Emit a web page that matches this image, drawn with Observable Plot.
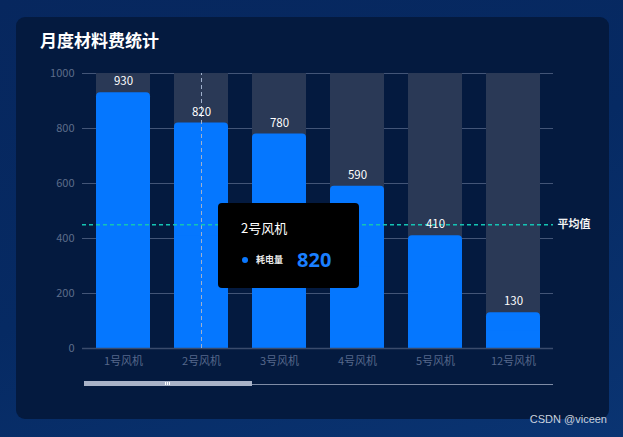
<!DOCTYPE html>
<html>
<head>
<meta charset="utf-8">
<script src="https://cdn.jsdelivr.net/npm/d3@7"></script>
<script src="https://cdn.jsdelivr.net/npm/@observablehq/plot@0.6"></script>
<style>
  html, body { margin: 0; padding: 0; }
  body {
    width: 623px; height: 437px; overflow: hidden; position: relative;
    background: linear-gradient(160deg, #07275e 0%, #062a63 50%, #0a3472 100%);
    font-family: "Noto Sans CJK SC", "Noto Sans", sans-serif;
  }
  #panel {
    position: absolute; left: 16px; top: 17px; width: 593px; height: 402px;
    background: #041a3f; border-radius: 9px;
  }
  #title {
    position: absolute; left: 40px; top: 27px; color: #ffffff;
    font-size: 17px; font-weight: bold; letter-spacing: 0px;
  }
  #chart { position: absolute; left: 0; top: 0; }
  #tooltip {
    position: absolute; width: 141px; height: 85px; background: #000;
    border-radius: 4px; box-sizing: border-box; padding: 16px 0 0 23px; color: #fff;
  }
  #tooltip .name { font-size: 13px; line-height: 18px; }
  #tooltip .row { margin-top: 9px; display: flex; align-items: center; }
  #tooltip .dot { width: 6px; height: 6px; border-radius: 50%; background: #0a78ff; margin-left: 1px; }
  #tooltip .lab { font-size: 9px; font-weight: bold; margin-left: 8px; color: #e8e8e8; }
  #tooltip .val { font-size: 20px; font-weight: bold; color: #1a7fff; margin-left: 14px; font-family: "Open Sans", "Noto Sans", sans-serif; }
  .slider-thick { position: absolute; height: 5px; background: #a9b3c8; }
  .slider-thin { position: absolute; height: 1px; background: #7f8ca6; }
  .grip { position: absolute; width: 1px; height: 3px; background: #ffffff; }
  #mark {
    position: absolute; right: 16px; top: 413px; font-size: 11px; color: #c9d1dd;
    font-family: "Liberation Sans", Arial, sans-serif;
  }
</style>
</head>
<body>
<div id="panel"></div>
<div id="title">月度材料费统计</div>
<div id="chart"></div>
<div id="mark">CSDN @viceen</div>
<script>
const categories = ["1号风机", "2号风机", "3号风机", "4号风机", "5号风机", "12号风机"];
const values = [930, 820, 780, 590, 410, 130];
const yTicks = [0, 200, 400, 600, 800, 1000];
const yMax = 1000;
const averageValue = 450;
const averageLabel = "平均值";
const seriesName = "耗电量";
const focusIndex = 1;

const data = categories.map((c, i) => ({ name: c, value: values[i] }));

const plot = Plot.plot({
  width: 623,
  height: 437,
  marginLeft: 82,
  marginRight: 70,
  marginTop: 73,
  marginBottom: 89,
  style: { background: "transparent", fontFamily: "'Noto Sans CJK SC', 'Noto Sans', sans-serif", overflow: "visible" },
  x: { domain: categories, paddingInner: 0.31, paddingOuter: 0.155, label: null },
  y: { domain: [0, yMax], ticks: yTicks, label: null },
  marks: [
    Plot.ruleY(yTicks.filter(d => d > 0), { stroke: "#435577", strokeWidth: 1 }),
    Plot.barY(data, { x: "name", y1: 0, y2: () => yMax, fill: "#2a3956" }),
    Plot.barY(data, { x: "name", y: "value", fill: "#0577ff", rx: 4 }),
    Plot.barY(data, { x: "name", y1: 0, y2: d => d.value * 0.5, fill: "#0577ff" }),
    Plot.ruleY([0], { stroke: "#3a4b6c", strokeWidth: 1.5 }),
    Plot.ruleX([categories[focusIndex]], { y1: 0, y2: yMax, stroke: "#9fb0cc", strokeDasharray: "4,3", strokeWidth: 1 }),
    Plot.ruleY([averageValue], { stroke: "#14c4b4", strokeDasharray: "4,3", strokeWidth: 1.5 }),
    Plot.text([averageValue], { y: d => d, frameAnchor: "right", dx: 37, text: () => averageLabel, fill: "#f2f2f2", fontSize: 11, fontWeight: "bold", textAnchor: "end" }),
    Plot.text(data, { x: "name", y: "value", text: d => String(d.value), dy: -11, fill: "#ffffff", fontSize: 11.5 }),
    Plot.axisY({ ticks: yTicks, tickFormat: d => String(d), tickSize: 0, tickPadding: 8, fill: "#5d6d8b", fontSize: 11, label: null }),
    Plot.axisX({ tickSize: 0, tickPadding: 9, fill: "#56688b", fontSize: 11, label: null })
  ]
});
document.getElementById("chart").appendChild(plot);

// tooltip anchored to the focused bar via scales
const xs = plot.scale("x");
const ys = plot.scale("y");
const bw = xs.bandwidth;
const cx = xs.apply(categories[focusIndex]) + bw / 2;
const tip = document.createElement("div");
tip.id = "tooltip";
tip.style.left = (cx + 17) + "px";
tip.style.top = (ys.apply(averageValue) - 21) + "px";
tip.innerHTML = `<div class="name">${categories[focusIndex]}</div>
  <div class="row"><div class="dot"></div><div class="lab">${seriesName}</div><div class="val">${values[focusIndex]}</div></div>`;
document.body.appendChild(tip);

// data-zoom slider below the axis
const r0 = xs.range[0], r1 = xs.range[1];
const sy = ys.apply(0) + 33;
const thick = document.createElement("div");
thick.className = "slider-thick";
const thickEnd = r0 + (r1 - r0) * 0.36;
thick.style.left = (r0 + 2) + "px";
thick.style.width = (thickEnd - r0 - 2) + "px";
thick.style.top = sy + "px";
document.body.appendChild(thick);
const thin = document.createElement("div");
thin.className = "slider-thin";
thin.style.left = thickEnd + "px";
thin.style.width = (r1 - thickEnd) + "px";
thin.style.top = (sy + 3) + "px";
document.body.appendChild(thin);
const gmid = (r0 + thickEnd) / 2;
[-2, 0, 2].forEach(o => {
  const g = document.createElement("div");
  g.className = "grip";
  g.style.left = (gmid + o) + "px";
  g.style.top = (sy + 1) + "px";
  document.body.appendChild(g);
});
</script>
</body>
</html>
